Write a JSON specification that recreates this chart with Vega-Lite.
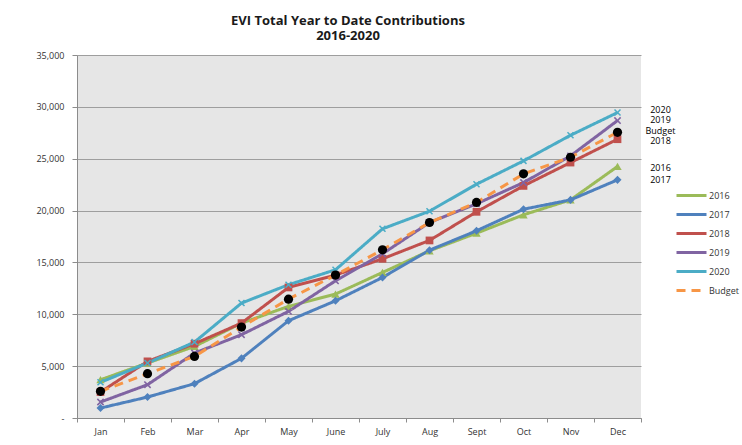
{
  "$schema": "https://vega.github.io/schema/vega-lite/v6.json",
  "width": 564,
  "height": 363,
  "autosize": "none",
  "padding": {"left": 77, "top": 55, "right": 101, "bottom": 27},
  "background": "white",
  "config": {
    "view": {"fill": "#e6e6e6", "stroke": null},
    "font": "Open Sans"
  },
  "title": {
    "text": ["EVI Total Year to Date Contributions", "2016-2020"],
    "fontSize": 13,
    "fontWeight": "bold",
    "font": "Open Sans",
    "color": "#1a1a1a",
    "anchor": "middle",
    "dx": -11,
    "offset": 8,
    "lineHeight": 15
  },
  "datasets": {
    "series": [
      {"month": "Jan", "series": "2016", "value": 3690},
      {"month": "Feb", "series": "2016", "value": 5300},
      {"month": "Mar", "series": "2016", "value": 6900},
      {"month": "Apr", "series": "2016", "value": 9150},
      {"month": "May", "series": "2016", "value": 10760},
      {"month": "June", "series": "2016", "value": 11950},
      {"month": "July", "series": "2016", "value": 14030},
      {"month": "Aug", "series": "2016", "value": 16120},
      {"month": "Sept", "series": "2016", "value": 17820},
      {"month": "Oct", "series": "2016", "value": 19590},
      {"month": "Nov", "series": "2016", "value": 21030},
      {"month": "Dec", "series": "2016", "value": 24250},
      {"month": "Jan", "series": "2017", "value": 960},
      {"month": "Feb", "series": "2017", "value": 2020},
      {"month": "Mar", "series": "2017", "value": 3310},
      {"month": "Apr", "series": "2017", "value": 5750},
      {"month": "May", "series": "2017", "value": 9380},
      {"month": "June", "series": "2017", "value": 11300},
      {"month": "July", "series": "2017", "value": 13550},
      {"month": "Aug", "series": "2017", "value": 16180},
      {"month": "Sept", "series": "2017", "value": 18050},
      {"month": "Oct", "series": "2017", "value": 20130},
      {"month": "Nov", "series": "2017", "value": 21030},
      {"month": "Dec", "series": "2017", "value": 22960},
      {"month": "Jan", "series": "2018", "value": 2500},
      {"month": "Feb", "series": "2018", "value": 5460},
      {"month": "Mar", "series": "2018", "value": 7160},
      {"month": "Apr", "series": "2018", "value": 9150},
      {"month": "May", "series": "2018", "value": 12590},
      {"month": "June", "series": "2018", "value": 13780},
      {"month": "July", "series": "2018", "value": 15350},
      {"month": "Aug", "series": "2018", "value": 17120},
      {"month": "Sept", "series": "2018", "value": 19880},
      {"month": "Oct", "series": "2018", "value": 22380},
      {"month": "Nov", "series": "2018", "value": 24630},
      {"month": "Dec", "series": "2018", "value": 26880},
      {"month": "Jan", "series": "2019", "value": 1540},
      {"month": "Feb", "series": "2019", "value": 3210},
      {"month": "Mar", "series": "2019", "value": 6260},
      {"month": "Apr", "series": "2019", "value": 8030},
      {"month": "May", "series": "2019", "value": 10280},
      {"month": "June", "series": "2019", "value": 13230},
      {"month": "July", "series": "2019", "value": 15830},
      {"month": "Aug", "series": "2019", "value": 18850},
      {"month": "Sept", "series": "2019", "value": 20650},
      {"month": "Oct", "series": "2019", "value": 22700},
      {"month": "Nov", "series": "2019", "value": 25270},
      {"month": "Dec", "series": "2019", "value": 28680},
      {"month": "Jan", "series": "2020", "value": 3440},
      {"month": "Feb", "series": "2020", "value": 5300},
      {"month": "Mar", "series": "2020", "value": 7320},
      {"month": "Apr", "series": "2020", "value": 11080},
      {"month": "May", "series": "2020", "value": 12850},
      {"month": "June", "series": "2020", "value": 14290},
      {"month": "July", "series": "2020", "value": 18240},
      {"month": "Aug", "series": "2020", "value": 19940},
      {"month": "Sept", "series": "2020", "value": 22540},
      {"month": "Oct", "series": "2020", "value": 24790},
      {"month": "Nov", "series": "2020", "value": 27260},
      {"month": "Dec", "series": "2020", "value": 29450},
      {"month": "Jan", "series": "Budget", "value": 2570},
      {"month": "Feb", "series": "Budget", "value": 4270},
      {"month": "Mar", "series": "Budget", "value": 5940},
      {"month": "Apr", "series": "Budget", "value": 8770},
      {"month": "May", "series": "Budget", "value": 11460},
      {"month": "June", "series": "Budget", "value": 13780},
      {"month": "July", "series": "Budget", "value": 16220},
      {"month": "Aug", "series": "Budget", "value": 18850},
      {"month": "Sept", "series": "Budget", "value": 20780},
      {"month": "Oct", "series": "Budget", "value": 23540},
      {"month": "Nov", "series": "Budget", "value": 25140},
      {"month": "Dec", "series": "Budget", "value": 27550}
    ],
    "labels": [
      {"month": "Dec", "label": "2020", "pos": 29650},
      {"month": "Dec", "label": "2019", "pos": 28720},
      {"month": "Dec", "label": "Budget", "pos": 27700},
      {"month": "Dec", "label": "2018", "pos": 26700},
      {"month": "Dec", "label": "2016", "pos": 24100},
      {"month": "Dec", "label": "2017", "pos": 22950}
    ]
  },
  "encoding": {
    "x": {
      "field": "month",
      "type": "ordinal",
      "sort": ["Jan", "Feb", "Mar", "Apr", "May", "June", "July", "Aug", "Sept", "Oct", "Nov", "Dec"],
      "scale": {"type": "band", "paddingInner": 0, "paddingOuter": 0},
      "axis": {
        "title": null,
        "labelAngle": 0,
        "tickBand": "extent",
        "tickSize": 4,
        "tickColor": "#8c8c8c",
        "domainColor": "#8c8c8c",
        "labelFontSize": 9,
        "labelColor": "#333333",
        "labelPadding": 5,
        "grid": false
      }
    }
  },
  "layer": [
    {
      "data": {"name": "series"},
      "mark": {"type": "line", "strokeWidth": 3},
      "encoding": {
        "y": {
          "field": "value",
          "type": "quantitative",
          "scale": {"domain": [0, 35000]},
          "axis": {
            "title": null,
            "values": [0, 5000, 10000, 15000, 20000, 25000, 30000, 35000],
            "labelExpr": "datum.value == 0 ? '-' : format(datum.value, ',')",
            "grid": true,
            "gridColor": "#9e9e9e",
            "gridWidth": 1,
            "tickSize": 5,
            "tickColor": "#8c8c8c",
            "domainColor": "#8c8c8c",
            "labelFontSize": 9,
            "labelColor": "#333333",
            "labelPadding": 8
          }
        },
        "color": {
          "field": "series",
          "type": "nominal",
          "scale": {
            "domain": ["2016", "2017", "2018", "2019", "2020", "Budget"],
            "range": ["#9bbb59", "#4f81bd", "#c0504d", "#8064a2", "#4bacc6", "#f79646"]
          },
          "legend": {
            "title": null,
            "orient": "none",
            "legendX": 598,
            "legendY": 133,
            "symbolType": "stroke",
            "symbolSize": 900,
            "symbolStrokeWidth": 3,
            "labelFontSize": 9,
            "labelColor": "#333333",
            "clipHeight": 15,
            "rowPadding": 4,
            "labelOffset": 1
          }
        },
        "strokeDash": {
          "field": "series",
          "type": "nominal",
          "scale": {
            "domain": ["2016", "2017", "2018", "2019", "2020", "Budget"],
            "range": [[1, 0], [1, 0], [1, 0], [1, 0], [1, 0], [9, 6]]
          },
          "legend": null
        }
      }
    },
    {
      "data": {"name": "series"},
      "transform": [{"filter": "datum.series != 'Budget'"}],
      "mark": {"type": "point", "filled": true, "opacity": 1},
      "encoding": {
        "y": {"field": "value", "type": "quantitative"},
        "color": {"field": "series", "type": "nominal"},
        "shape": {
          "field": "series",
          "type": "nominal",
          "scale": {
            "domain": ["2016", "2017", "2018", "2019", "2020"],
            "range": [
              "triangle-up",
              "diamond",
              "square",
              "M-1,-0.7L-0.7,-1L0,-0.3L0.7,-1L1,-0.7L0.3,0L1,0.7L0.7,1L0,0.3L-0.7,1L-1,0.7L-0.3,0Z",
              "M-1,-0.7L-0.7,-1L0,-0.3L0.7,-1L1,-0.7L0.3,0L1,0.7L0.7,1L0,0.3L-0.7,1L-1,0.7L-0.3,0Z"
            ]
          },
          "legend": null
        },
        "size": {
          "field": "series",
          "type": "nominal",
          "scale": {
            "domain": ["2016", "2017", "2018", "2019", "2020"],
            "range": [70, 50, 90, 45, 45]
          },
          "legend": null
        }
      }
    },
    {
      "data": {"name": "series"},
      "transform": [{"filter": "datum.series == 'Budget'"}],
      "mark": {"type": "point", "filled": true, "opacity": 1, "shape": "circle", "size": 85, "color": "black"},
      "encoding": {
        "y": {"field": "value", "type": "quantitative"}
      }
    },
    {
      "data": {"name": "labels"},
      "mark": {"type": "text", "align": "center", "baseline": "middle", "dx": 43, "fontSize": 9, "color": "#000000"},
      "encoding": {
        "y": {"field": "pos", "type": "quantitative"},
        "text": {"field": "label", "type": "nominal"}
      }
    }
  ]
}
